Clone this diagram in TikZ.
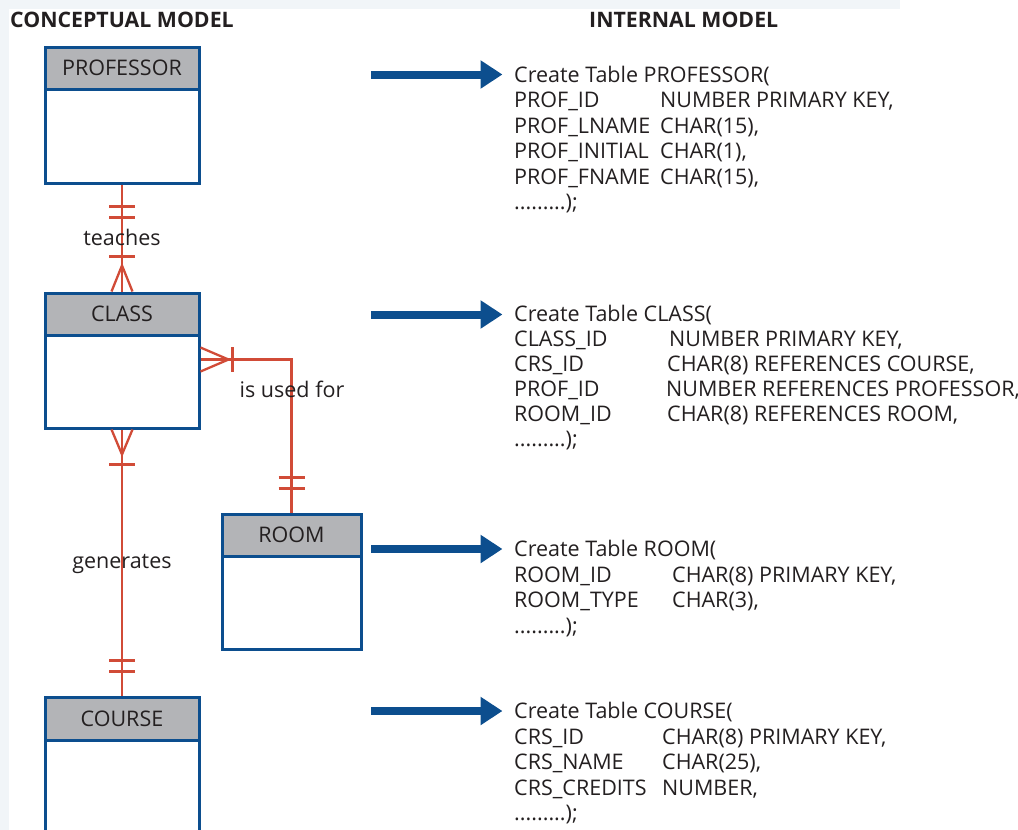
\documentclass[tikz,border=0pt]{standalone}
\usepackage{fontspec}
\setmainfont{Open Sans}
\usetikzlibrary{arrows.meta,calc}

\definecolor{erblue}{RGB}{12,78,142}
\definecolor{hdrgray}{RGB}{179,180,183}
\definecolor{relred}{RGB}{209,75,55}
\definecolor{ink}{RGB}{35,31,32}
\definecolor{pane}{RGB}{241,245,248}

% one line of a CREATE TABLE statement: name, baseline, type column, field, type
\newcommand\sqlrow[5]{%
  \node[code] (#1f) at (514,#2) {#4};
  \node[code] (#1t) at (#3,#2) {#5};}

\begin{document}
\begin{tikzpicture}[x=1pt,y=-1pt,
  every node/.style={text=ink, font=\fontsize{21.5}{25.5}\selectfont},
  hdr/.style={draw=erblue, line width=3pt, fill=hdrgray, inner sep=0pt},
  body/.style={draw=erblue, line width=3pt, fill=white, inner sep=0pt},
  rel/.style={draw=relred, line width=2.3pt},
  code/.style={anchor=base west, inner sep=0pt},
  rellabel/.style={anchor=base, inner sep=0pt},
  heading/.style={anchor=base west, inner sep=0pt,
    font=\fontsize{21.3}{24}\selectfont\bfseries},
  maparrow/.style={draw=erblue, line width=8pt,
    -{Triangle[length=22pt,width=27pt]}, shorten >=11.5pt}
]
\useasboundingbox (0,0) rectangle (1018,830);
\clip (0,0) rectangle (1018,830);

% pale page margins
\fill[pane] (0,0) rectangle (900,9);
\fill[pane] (0,0) rectangle (9,830);

% column headings
\node[heading] (hcon) at (10,27.5) {CONCEPTUAL MODEL};
\node[heading] (hint) at (589,27.5) {INTERNAL MODEL};

% entities
\node[hdr, minimum width=154pt, minimum height=42pt] (profh) at (122,68) {PROFESSOR};
\node[body, minimum width=154pt, minimum height=94pt] (profb) at (122,136) {};

\node[hdr, minimum width=154pt, minimum height=42pt] (classh) at (122,314) {CLASS};
\node[body, minimum width=154pt, minimum height=93pt] (classb) at (122,381.5) {};

\node[hdr, minimum width=139pt, minimum height=42pt] (roomh) at (291.5,535) {ROOM};
\node[body, minimum width=139pt, minimum height=93pt] (roomb) at (291.5,602.5) {};

\node[hdr, minimum width=154pt, minimum height=43pt] (courseh) at (122,718.5) {COURSE};
\node[body, minimum width=154pt, minimum height=140pt] (courseb) at (122,810) {};

% PROFESSOR teaches CLASS
\draw[rel] (profb.south) -- (classh.north);
\draw[rel] ($(profb.south)+(-13,22)$) -- ++(26,0);
\draw[rel] ($(profb.south)+(-13,33)$) -- ++(26,0);
\draw[rel] ($(classh.north)+(-13,-35)$) -- ++(26,0);
\draw[rel] ($(classh.north)+(-10.5,0)$) -- ($(classh.north)+(0,-26)$) -- ($(classh.north)+(10.5,0)$);
\node[rellabel] (teaches) at (122,245) {teaches};

% ROOM is used for CLASS
\coordinate (cr) at ($(classb.north east)+(0,26)$);
\draw[rel] (cr) -| (roomh.north);
\draw[rel] ($(cr)+(0,-12)$) -- ($(cr)+(28,0)$) -- ($(cr)+(0,12)$);
\draw[rel] ($(cr)+(32,-12.5)$) -- ++(0,25);
\draw[rel] ($(roomh.north)+(-13,-35)$) -- ++(26,0);
\draw[rel] ($(roomh.north)+(-13,-24)$) -- ++(26,0);
\node[rellabel] (usedfor) at (292,397) {is used for};

% COURSE generates CLASS
\draw[rel] (classb.south) -- (courseh.north);
\draw[rel] ($(classb.south)+(-10.5,0)$) -- ($(classb.south)+(0,25)$) -- ($(classb.south)+(10.5,0)$);
\draw[rel] ($(classb.south)+(-13,35)$) -- ++(26,0);
\draw[rel] ($(courseh.north)+(-13,-35)$) -- ++(26,0);
\draw[rel] ($(courseh.north)+(-13,-24)$) -- ++(26,0);
\node[rellabel] (generates) at (122,568) {generates};

% CREATE TABLE PROFESSOR
\node[code] (psql) at (514,82) {Create Table PROFESSOR(};
\sqlrow{p1}{107.5}{660}{PROF\_ID}{NUMBER PRIMARY KEY,}
\sqlrow{p2}{133}{660}{PROF\_LNAME}{CHAR(15),}
\sqlrow{p3}{158.5}{660}{PROF\_INITIAL}{CHAR(1),}
\sqlrow{p4}{184}{660}{PROF\_FNAME}{CHAR(15),}
\node[code] (pend) at (514,209.5) {.........);};

% CREATE TABLE CLASS
\node[code] (csql) at (514,321.7) {Create Table CLASS(};
\sqlrow{c1}{346.7}{669}{CLASS\_ID}{NUMBER PRIMARY KEY,}
\sqlrow{c2}{371.7}{667}{CRS\_ID}{CHAR(8) REFERENCES COURSE,}
\sqlrow{c3}{396.7}{666}{PROF\_ID}{NUMBER REFERENCES PROFESSOR,}
\sqlrow{c4}{421.7}{667}{ROOM\_ID}{CHAR(8) REFERENCES ROOM,}
\node[code] (cend) at (514,446.7) {.........);};

% CREATE TABLE ROOM
\node[code] (rsql) at (514,556.5) {Create Table ROOM(};
\sqlrow{r1}{582}{672}{ROOM\_ID}{CHAR(8) PRIMARY KEY,}
\sqlrow{r2}{607.5}{672}{ROOM\_TYPE}{CHAR(3),}
\node[code] (rend) at (514,633) {.........);};

% CREATE TABLE COURSE
\node[code] (ksql) at (514,718.5) {Create Table COURSE(};
\sqlrow{k1}{744}{662}{CRS\_ID}{CHAR(8) PRIMARY KEY,}
\sqlrow{k2}{769.5}{662}{CRS\_NAME}{CHAR(25),}
\sqlrow{k3}{795}{662}{CRS\_CREDITS}{NUMBER,}
\node[code] (kend) at (514,820.5) {.........);};

% mapping arrows from the conceptual to the internal model
\coordinate (pa) at (371,74.5);
\coordinate (ca) at (371,314.5);
\coordinate (ra) at (371,549);
\coordinate (ka) at (371,711);
\draw[maparrow] (pa) -- (pa -| psql.west);
\draw[maparrow] (ca) -- (ca -| csql.west);
\draw[maparrow] (ra) -- (ra -| rsql.west);
\draw[maparrow] (ka) -- (ka -| ksql.west);
\end{tikzpicture}
\end{document}
